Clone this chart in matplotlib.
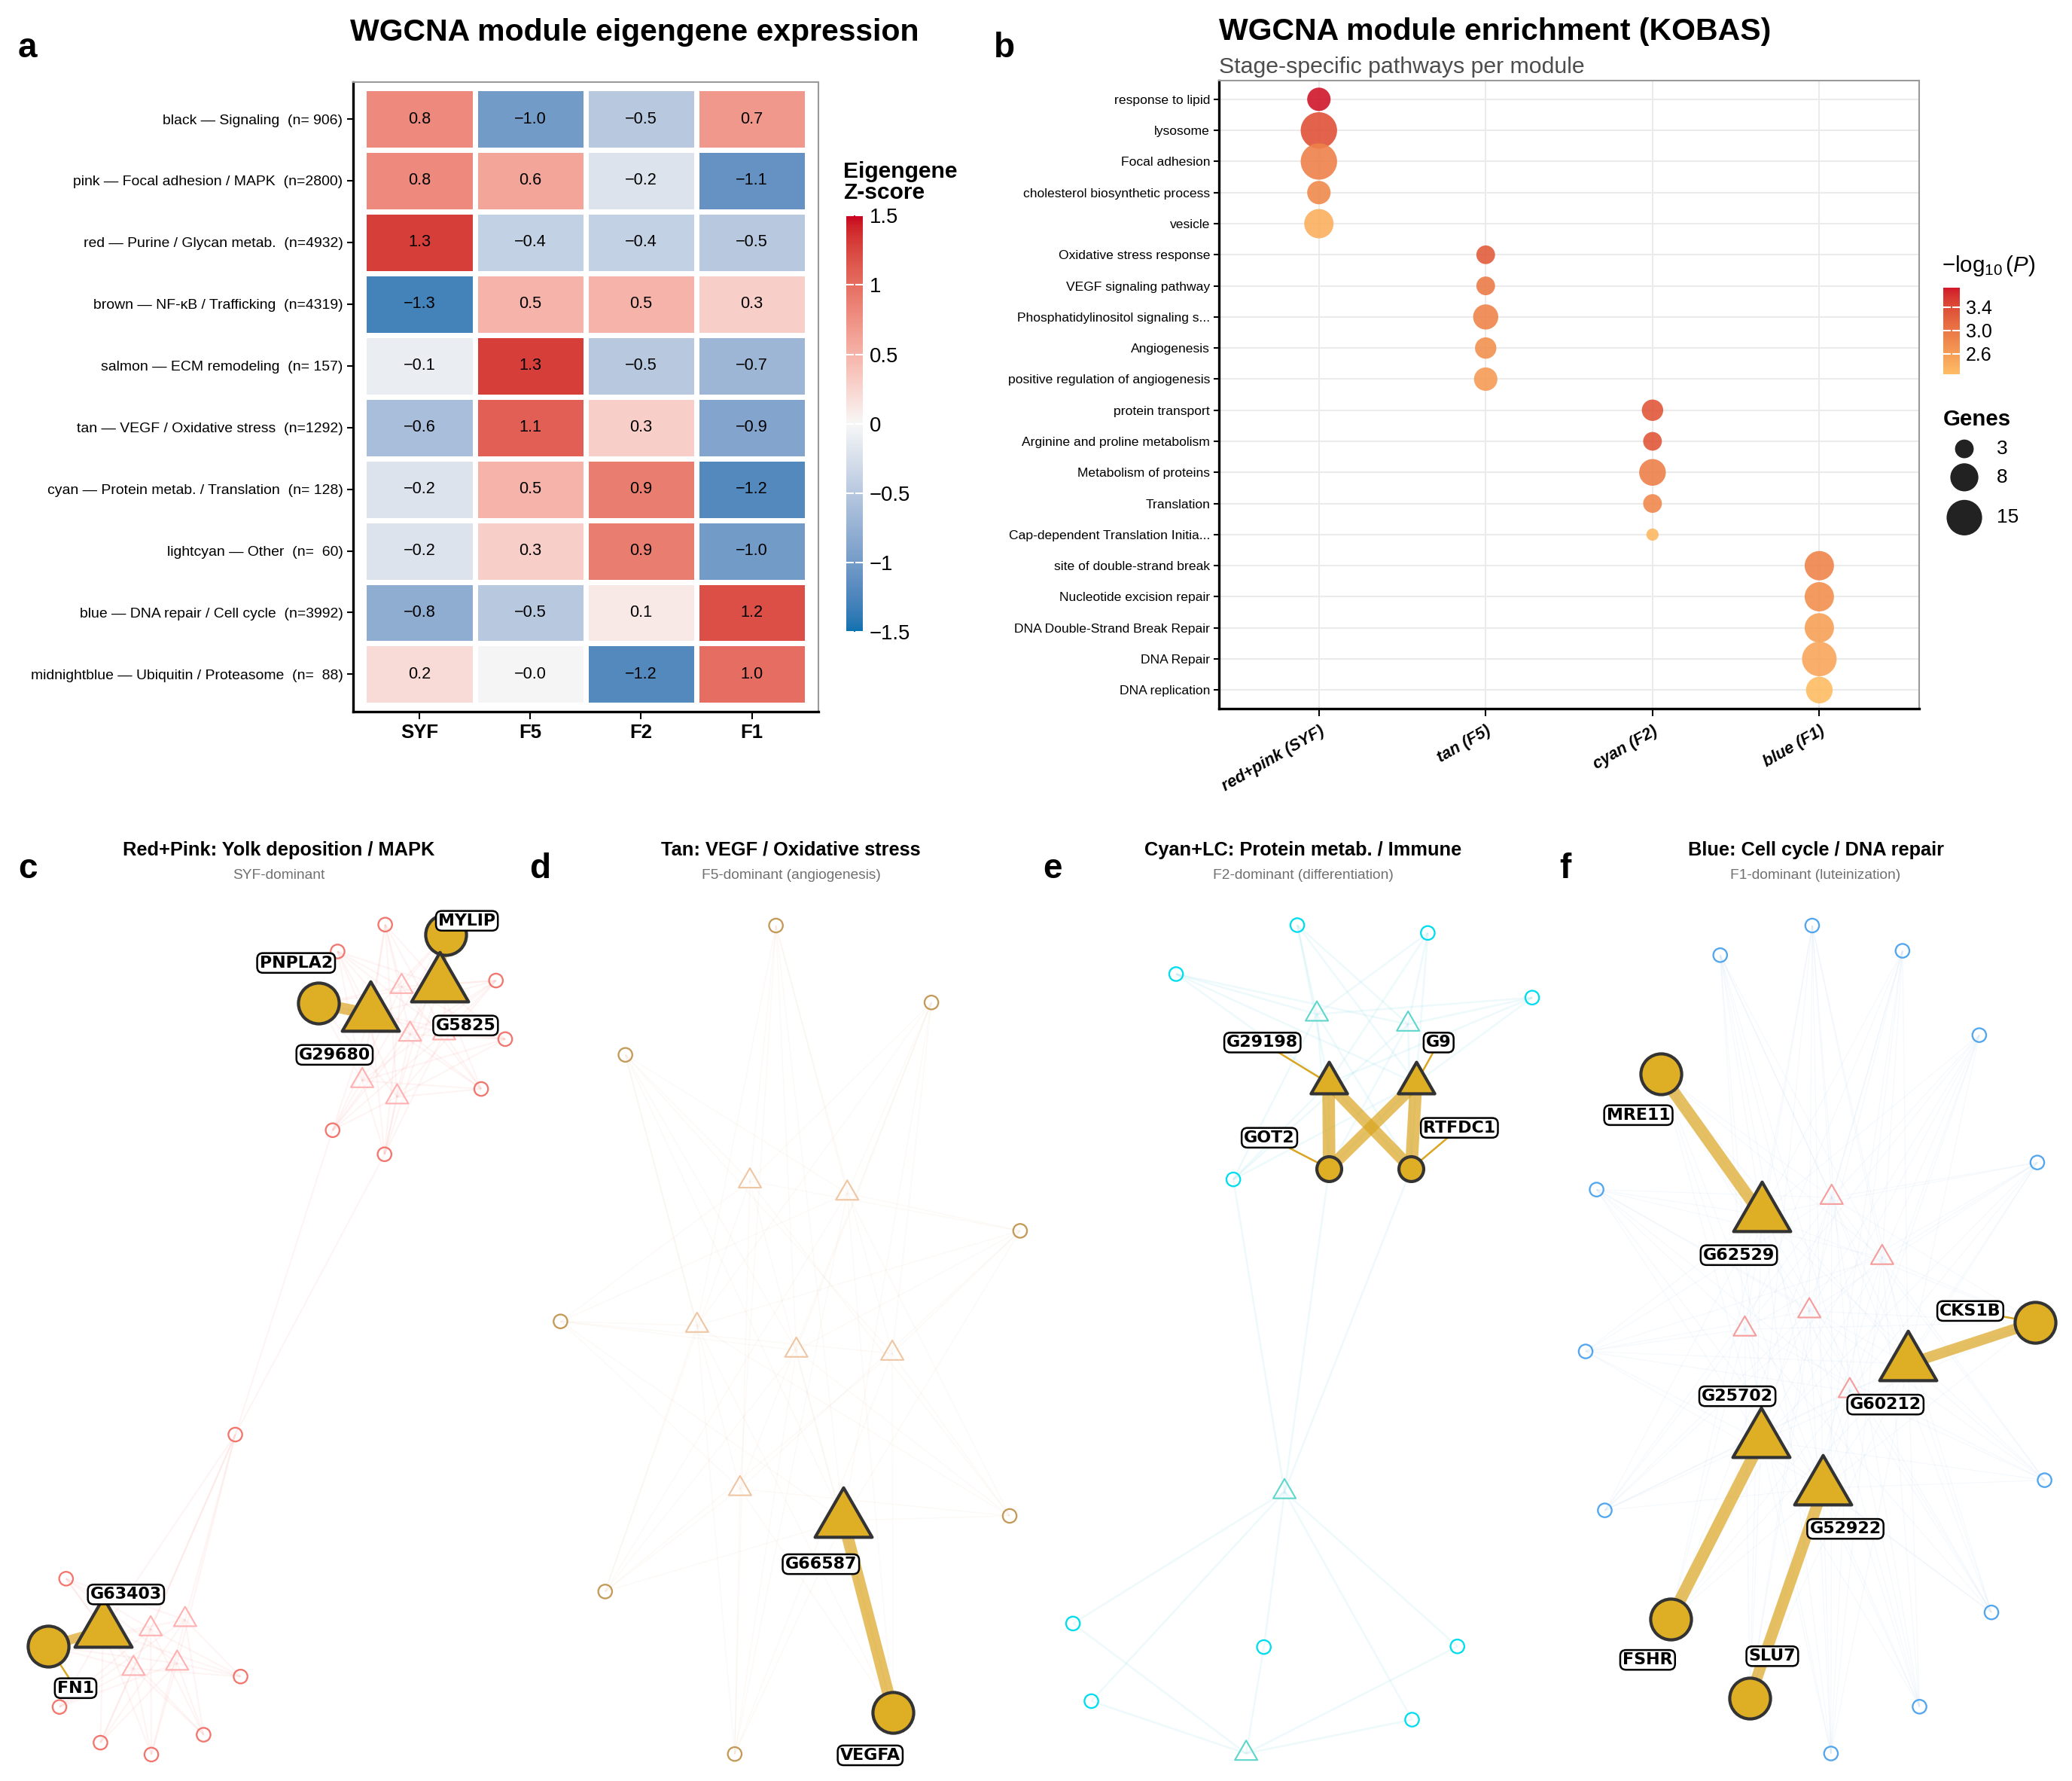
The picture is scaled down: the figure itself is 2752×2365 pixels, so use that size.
import numpy as np
import matplotlib
matplotlib.use("Agg")
import matplotlib.pyplot as plt
from matplotlib.path import Path
from matplotlib.colors import ListedColormap, Normalize
from matplotlib.collections import LineCollection
import matplotlib.cm as cm

plt.rcParams['font.family'] = ['Liberation Sans', 'DejaVu Sans']
plt.rcParams['mathtext.fontset'] = 'custom'
plt.rcParams['mathtext.rm'] = 'Liberation Sans'
plt.rcParams['mathtext.it'] = 'Liberation Sans:italic'

# ======================= Panel a data =======================
module_names = ['black', 'pink', 'red', 'brown', 'salmon', 'tan', 'cyan',
                'lightcyan', 'blue', 'midnightblue']
module_terms = ['Signaling', 'Focal adhesion / MAPK', 'Purine / Glycan metab.',
                'NF-\u03baB / Trafficking', 'ECM remodeling', 'VEGF / Oxidative stress',
                'Protein metab. / Translation', 'Other', 'DNA repair / Cell cycle',
                'Ubiquitin / Proteasome']
module_sizes = [906, 2800, 4932, 4319, 157, 1292, 128, 60, 3992, 88]
stages = ['SYF', 'F5', 'F2', 'F1']
eigengene_z = [
    [0.8, -1.0, -0.5, 0.7],
    [0.8, 0.6, -0.2, -1.1],
    [1.3, -0.4, -0.4, -0.5],
    [-1.3, 0.5, 0.5, 0.3],
    [-0.1, 1.3, -0.5, -0.7],
    [-0.6, 1.1, 0.3, -0.9],
    [-0.2, 0.5, 0.9, -1.2],
    [-0.2, 0.3, 0.9, -1.0],
    [-0.8, -0.5, 0.1, 1.2],
    [0.2, -0.02, -1.2, 1.0],
]
z_ticks = [-1.5, -1, -0.5, 0, 0.5, 1, 1.5]

# ======================= Panel b data =======================
kobas_terms = ['response to lipid', 'lysosome', 'Focal adhesion',
               'cholesterol biosynthetic process', 'vesicle',
               'Oxidative stress response', 'VEGF signaling pathway',
               'Phosphatidylinositol signaling s...', 'Angiogenesis',
               'positive regulation of angiogenesis',
               'protein transport', 'Arginine and proline metabolism',
               'Metabolism of proteins', 'Translation',
               'Cap-dependent Translation Initia...',
               'site of double-strand break', 'Nucleotide excision repair',
               'DNA Double-Strand Break Repair', 'DNA Repair', 'DNA replication']
kobas_groups = ['red+pink (SYF)', 'tan (F5)', 'cyan (F2)', 'blue (F1)']
kobas_group_of_term = [0, 0, 0, 0, 0, 1, 1, 1, 1, 1, 2, 2, 2, 2, 2, 3, 3, 3, 3, 3]
kobas_neglog10p = [3.73, 3.35, 2.88, 2.80, 2.40, 3.25, 2.95, 2.85, 2.72, 2.62,
                   3.30, 3.30, 2.90, 2.82, 2.30, 2.86, 2.74, 2.56, 2.48, 2.254]
kobas_genes = [5, 16, 16, 5, 9, 3, 3, 6, 4, 5, 4, 3, 7, 3, 2, 9, 9, 9, 14, 7]
p_ticks = [2.6, 3.0, 3.4]
gene_legend = [3, 8, 15]

# ======================= Network data (layout units) =======================
# ---- c: Red+Pink
c_title = 'Red+Pink: Yolk deposition / MAPK'
c_sub = 'SYF-dominant'
c_circles = {'r1': (291.4, 699.3), 'r2': (255.4, 719.6), 'r3': (375.2, 741.6),
             'r4': (382.2, 785.9), 'r5': (364.0, 823.6), 'r6': (251.6, 854.8),
             'r7': (290.9, 873.0), 'r8': (178.0, 1085.0), 'r9': (50.0, 1194.0),
             'r10': (182.0, 1268.0), 'r11': (45.0, 1291.0), 'r12': (76.0, 1318.0),
             'r13': (114.5, 1327.0), 'r14': (154.0, 1312.0)}
c_tris = {'p1': (303.8, 746.2), 'p2': (310.2, 782.3), 'p3': (336.0, 781.3),
          'p4': (274.0, 817.4), 'p5': (300.4, 829.7), 'p6': (114.0, 1232.0),
          'p7': (140.0, 1225.0), 'p8': (101.0, 1262.0), 'p9': (134.0, 1258.0)}
c_hub_circles = {'MYLIP': (337.4, 706.7), 'PNPLA2': (241.1, 758.9), 'FN1': (36.6, 1245.0)}
c_hub_tris = {'G5825': (332.5, 745.0), 'G29680': (280.5, 767.0), 'G63403': (78.0, 1233.0)}
c_groups = [(['r1', 'r2', 'r3', 'r4', 'r5', 'r6', 'r7', 'MYLIP', 'PNPLA2'],
             ['p1', 'p2', 'p3', 'p4', 'p5', 'G5825', 'G29680']),
            (['r8', 'r9', 'r10', 'r11', 'r12', 'r13', 'r14', 'FN1'],
             ['p6', 'p7', 'p8', 'p9', 'G63403'])]
c_extra = [('r6', 'r8'), ('r7', 'r8')]
c_gold = [('PNPLA2', 'G29680'), ('MYLIP', 'G5825'), ('FN1', 'G63403')]
c_gold_w = [3.6, 2.2, 3.0]
c_labels = {'MYLIP': (353.2, 696.4), 'PNPLA2': (224.0, 728.3), 'G5825': (352.2, 775.6),
            'G29680': (253.1, 797.8), 'G63403': (95.3, 1205.9), 'FN1': (57.2, 1276.8)}
c_seg = ['FN1']

# ---- d: Tan
d_title = 'Tan: VEGF / Oxidative stress'
d_sub = 'F5-dominant (angiogenesis)'
d_circles = {'n1': (587.0, 700.0), 'n2': (704.6, 758.2), 'n3': (473.1, 797.8),
             'n4': (771.7, 930.9), 'n5': (424.0, 999.4), 'n6': (763.8, 1146.5),
             'n7': (457.8, 1203.7), 'n8': (555.8, 1326.6)}
d_tris = {'q1': (567.3, 893.3), 'q2': (640.9, 902.5), 'q3': (527.3, 1002.5),
          'q4': (602.4, 1021.3), 'q5': (675.0, 1023.6), 'q6': (559.8, 1126.0)}
d_hub_circles = {'VEGFA': (675.6, 1295.0)}
d_hub_tris = {'G66587': (638.0, 1150.0)}
d_groups = [(['n1', 'n2', 'n3', 'n4', 'n5', 'n6', 'n7', 'n8', 'VEGFA'],
             ['q1', 'q2', 'q3', 'q4', 'q5', 'q6', 'G66587'])]
d_extra = []
d_gold = [('G66587', 'VEGFA')]
d_gold_w = [3.8]
d_labels = {'G66587': (621.0, 1183.0), 'VEGFA': (658.3, 1327.6)}
d_seg = []

# ---- e: Cyan+LC
e_title = 'Cyan+LC: Protein metab. / Immune'
e_sub = 'F2-dominant (differentiation)'
e_circles = {'k1': (981.4, 699.7), 'k2': (1080.1, 705.6), 'k3': (889.7, 736.7),
             'k4': (1159.1, 754.5), 'k5': (933.0, 892.0), 'k6': (811.7, 1227.9),
             'k7': (956.1, 1245.7), 'k8': (1102.5, 1245.2), 'k9': (825.6, 1286.6),
             'k10': (1068.2, 1300.6)}
e_tris = {'m1': (996.2, 767.1), 'm2': (1065.2, 774.7), 'm3': (971.7, 1128.3),
          'm4': (942.7, 1326.2)}
e_hub_circles = {'GOT2': (1005.5, 883.8), 'RTFDC1': (1067.6, 883.8)}
e_hub_tris = {'G29198': (1005.0, 819.2), 'G9': (1071.2, 819.2)}
e_groups = [(['k1', 'k2', 'k3', 'k4', 'k5', 'GOT2', 'RTFDC1'],
             ['m1', 'm2', 'G29198', 'G9']),
            (['k6', 'k7', 'k8', 'k9', 'k10'], ['m3', 'm4'])]
e_extra = [('k5', 'm3'), ('GOT2', 'm3'), ('RTFDC1', 'm3')]
e_gold = [('G29198', 'GOT2'), ('G9', 'RTFDC1'), ('G29198', 'RTFDC1'), ('G9', 'GOT2')]
e_gold_w = [4.0, 4.0, 3.8, 3.8]
e_labels = {'G29198': (955.0, 788.5), 'G9': (1088.3, 788.5), 'GOT2': (960.3, 860.5),
            'RTFDC1': (1104.0, 853.0)}
e_seg = ['G29198', 'G9', 'GOT2', 'RTFDC1']

# ---- f: Blue
f_title = 'Blue: Cell cycle / DNA repair'
f_sub = 'F1-dominant (luteinization)'
f_circles = {'b1': (1370.9, 700.0), 'b2': (1301.3, 722.4), 'b3': (1439.2, 719.1),
             'b4': (1497.3, 782.9), 'b5': (1207.8, 899.7), 'b6': (1541.2, 879.2),
             'b7': (1199.5, 1022.1), 'b8': (1214.0, 1142.3), 'b9': (1546.7, 1119.5),
             'b10': (1506.5, 1219.5), 'b11': (1452.1, 1290.8), 'b12': (1385.1, 1326.2)}
f_tris = {'u1': (1385.6, 905.7), 'u2': (1423.8, 951.2), 'u3': (1368.7, 991.5),
          'u4': (1319.9, 1005.3), 'u5': (1399.3, 1051.9)}
f_hub_circles = {'MRE11': (1256.4, 812.2), 'CKS1B': (1539.8, 1000.0),
                 'FSHR': (1263.6, 1224.7), 'SLU7': (1323.7, 1284.3)}
f_hub_tris = {'G62529': (1332.5, 918.8), 'G60212': (1443.4, 1031.6),
              'G25702': (1332.2, 1089.6), 'G52922': (1379.1, 1125.5)}
f_groups = [(['b1', 'b2', 'b3', 'b4', 'b5', 'b6', 'b7', 'b8', 'b9', 'b10', 'b11', 'b12',
              'MRE11', 'CKS1B', 'FSHR', 'SLU7'],
             ['u1', 'u2', 'u3', 'u4', 'u5', 'G62529', 'G60212', 'G25702', 'G52922'])]
f_extra = []
f_gold = [('MRE11', 'G62529'), ('CKS1B', 'G60212'), ('G25702', 'FSHR'), ('G52922', 'SLU7')]
f_gold_w = [3.8, 3.4, 3.8, 3.6]
f_labels = {'MRE11': (1239.4, 843.4), 'G62529': (1315.4, 949.3), 'CKS1B': (1490.5, 991.5),
            'G60212': (1426.3, 1062.3), 'G25702': (1314.3, 1056.0), 'G52922': (1396.0, 1156.3),
            'FSHR': (1246.4, 1255.4), 'SLU7': (1340.7, 1252.6)}
f_seg = ['CKS1B']

# ======================= helpers =======================
_M = np.array([[0.4124564, 0.3575761, 0.1804375],
               [0.2126729, 0.7151522, 0.0721750],
               [0.0193339, 0.1191920, 0.9503041]])
_Minv = np.linalg.inv(_M)
_WHITE = np.array([0.95047, 1.0, 1.08883])


def hex2rgb(h):
    h = h.lstrip('#')
    return np.array([int(h[i:i + 2], 16) for i in (0, 2, 4)]) / 255.0


def rgb2lab(rgb):
    c = np.where(rgb <= 0.04045, rgb / 12.92, ((rgb + 0.055) / 1.055) ** 2.4)
    t = (_M @ c) / _WHITE
    f = np.where(t > (6 / 29) ** 3, np.cbrt(t), t / (3 * (6 / 29) ** 2) + 4 / 29)
    return np.array([116 * f[1] - 16, 500 * (f[0] - f[1]), 200 * (f[1] - f[2])])


def lab2rgb(lab):
    L, a, b = lab
    fy = (L + 16) / 116
    f = np.array([fy + a / 500, fy, fy - b / 200])
    t = np.where(f > 6 / 29, f ** 3, 3 * (6 / 29) ** 2 * (f - 4 / 29))
    c = np.clip(_Minv @ (t * _WHITE), 0, 1)
    rgb = np.where(c <= 0.0031308, 12.92 * c, 1.055 * c ** (1 / 2.4) - 0.055)
    return np.clip(rgb, 0, 1)


def lab_ramp(hexes, n=256):
    labs = np.array([rgb2lab(hex2rgb(h)) for h in hexes])
    pos = np.linspace(0, 1, len(hexes))
    out = []
    for ti in np.linspace(0, 1, n):
        lab = np.array([np.interp(ti, pos, labs[:, k]) for k in range(3)])
        out.append(lab2rgb(lab))
    return ListedColormap(out)


def umin(s):
    return s.replace('-', '\u2212')


TRI = Path([(0, 1), (-0.866, -0.5), (0.866, -0.5), (0, 1)],
           [Path.MOVETO, Path.LINETO, Path.LINETO, Path.CLOSEPOLY])

# ======================= figure =======================
FW, FH = 1568.0, 1347.0
fig = plt.figure(figsize=(2753 / 300, 2365 / 300), dpi=300)
fig.patch.set_facecolor('white')


def rect(x0, y0, x1, y1):
    return [x0 / FW, 1 - y1 / FH, (x1 - x0) / FW, (y1 - y0) / FH]


def style_frame(ax):
    for s in ['left', 'bottom']:
        ax.spines[s].set_color('black')
        ax.spines[s].set_linewidth(0.8)
    for s in ['top', 'right']:
        ax.spines[s].set_color('#9a9a9a')
        ax.spines[s].set_linewidth(0.5)


# ----------------------- Panel a -----------------------
cmap_a = lab_ramp(['#0571B0', '#F7F7F7', '#CA0020'])
norm_a = Normalize(-1.5, 1.5)
Z = np.array(eigengene_z)
axa = fig.add_axes(rect(267, 62, 619, 538))
axa.pcolormesh(np.arange(len(stages) + 1) - 0.5, np.arange(len(module_names) + 1) - 0.5, Z,
               cmap=cmap_a, norm=norm_a, edgecolors='white', linewidth=1.3)
for i in range(Z.shape[0]):
    for j in range(Z.shape[1]):
        axa.text(j, i, umin(f"{Z[i, j]:.1f}"), ha='center', va='center', fontsize=5.2,
                 color='black')
axa.set_xlim(-0.6, len(stages) - 0.4)
axa.set_ylim(len(module_names) - 0.4, -0.6)
axa.set_xticks(range(len(stages)))
axa.set_xticklabels(stages, fontsize=6.2, fontweight='bold')
axa.set_yticks(range(len(module_names)))
axa.set_yticklabels([f"{m} \u2014 {t}  (n={n:4d})" for m, t, n in
                     zip(module_names, module_terms, module_sizes)], fontsize=4.66)
axa.tick_params(axis='x', length=2.5, width=0.5, pad=1.5)
axa.tick_params(axis='y', length=2.0, width=0.5, pad=1.2)
style_frame(axa)

caxa = fig.add_axes(rect(640, 163, 653, 478))
cba = fig.colorbar(cm.ScalarMappable(norm=norm_a, cmap=cmap_a), cax=caxa)
cba.outline.set_visible(False)
cba.set_ticks(z_ticks)
cba.set_ticklabels([umin(f"{t:g}") for t in z_ticks])
caxa.tick_params(left=True, right=True, labelleft=False, labelright=True, direction='in',
                 color='white', length=2.4, width=0.5, labelsize=6.6, pad=2)
fig.text(638 / FW, 1 - 122 / FH, 'Eigengene\nZ-score', fontsize=7.2, fontweight='bold',
         ha='left', va='top', linespacing=1.0)

fig.text(265 / FW, 1 - 24.5 / FH, 'WGCNA module eigengene expression', fontsize=9.85,
         fontweight='bold', ha='left', va='center')
fig.text(21 / FW, 1 - 36.5 / FH, 'a', fontsize=11, fontweight='bold', ha='center', va='center')

# ----------------------- Panel b -----------------------
cmap_b = lab_ramp(['#FEBC64', '#D1162B'])
norm_b = Normalize(min(kobas_neglog10p), max(kobas_neglog10p))
gmin, gmax = min(kobas_genes), max(kobas_genes)
DMIN, DMAX = 3.9, 11.6  # point diameters (pt)


def gene_size(g):
    g = np.asarray(g, dtype=float)
    return (DMIN + (DMAX - DMIN) * np.sqrt((g - gmin) / (gmax - gmin))) ** 2


axb = fig.add_axes(rect(922, 61, 1452, 536))
axb.scatter(kobas_group_of_term, range(len(kobas_terms)), s=gene_size(kobas_genes),
            c=cmap_b(norm_b(kobas_neglog10p)), alpha=0.9, linewidths=0, zorder=3)
axb.set_xlim(-0.6, len(kobas_groups) - 0.4)
axb.set_ylim(len(kobas_terms) - 0.4, -0.6)
axb.set_xticks(range(len(kobas_groups)))
axb.set_xticklabels(kobas_groups, fontsize=5.2, fontweight='bold', style='italic',
                    rotation=30, ha='right', va='top', rotation_mode='anchor')
axb.set_yticks(range(len(kobas_terms)))
axb.set_yticklabels(kobas_terms, fontsize=4.2)
axb.tick_params(axis='x', length=2.5, width=0.5, pad=2)
axb.tick_params(axis='y', length=1.8, width=0.5, pad=1.0)
axb.grid(True, color='#EBEBEB', linewidth=0.5)
axb.set_axisbelow(True)
style_frame(axb)

caxb = fig.add_axes(rect(1470, 217.5, 1482.5, 283))
cbb = fig.colorbar(cm.ScalarMappable(norm=norm_b, cmap=cmap_b), cax=caxb)
cbb.outline.set_visible(False)
cbb.set_ticks(p_ticks)
cbb.set_ticklabels([f"{t:.1f}" for t in p_ticks])
caxb.tick_params(left=True, right=True, labelleft=False, labelright=True, direction='in',
                 color='white', length=2.4, width=0.5, labelsize=6.0, pad=2)
fig.text(1469 / FW, 1 - 201 / FH, r'$-\log_{10}(P)$', fontsize=7.1, ha='left', va='center')
fig.text(1470 / FW, 1 - 317 / FH, 'Genes', fontsize=7.1, fontweight='bold', ha='left',
         va='center')

fig.text(922 / FW, 1 - 24 / FH, 'WGCNA module enrichment (KOBAS)', fontsize=9.85,
         fontweight='bold', ha='left', va='center')
fig.text(922 / FW, 1 - 50.5 / FH, 'Stage-specific pathways per module', fontsize=7.25,
         color='#4D4D4D', ha='left', va='center')
fig.text(760 / FW, 1 - 36.5 / FH, 'b', fontsize=11, fontweight='bold', ha='center', va='center')

# overlay for legend keys
ov = fig.add_axes([0, 0, 1, 1])
ov.set_xlim(0, FW)
ov.set_ylim(FH, 0)
ov.axis('off')
leg_y = [339.5, 361.0, 391.5]
ov.scatter([1486] * len(gene_legend), leg_y, s=gene_size(gene_legend), color='#222222',
           linewidths=0)
for g, yy in zip(gene_legend, leg_y):
    ov.text(1510.5, yy, str(g), fontsize=6.3, ha='left', va='center')

# ----------------------- Networks -----------------------
PANEL_W = 387.6
PANEL_X0 = 17.0
HUB_FILL = '#DEAE24'
HUB_EDGE = '#333333'
GOLD_EDGE = '#DAA520'

nets = [
    dict(title=c_title, sub=c_sub, letter='c', circles=c_circles, tris=c_tris,
         hc=c_hub_circles, ht=c_hub_tris, groups=c_groups, extra=c_extra, gold=c_gold,
         gw=c_gold_w, labels=c_labels, seg=c_seg,
         ccol='#F2766E', tcol='#FFB0B0', ecol='#F47A72', ealpha=0.08, elw=0.5,
         hc_size=13.0, ht_size=21.0),
    dict(title=d_title, sub=d_sub, letter='d', circles=d_circles, tris=d_tris,
         hc=d_hub_circles, ht=d_hub_tris, groups=d_groups, extra=d_extra, gold=d_gold,
         gw=d_gold_w, labels=d_labels, seg=d_seg,
         ccol='#C49A58', tcol='#EFC6A4', ecol='#E2B98E', ealpha=0.08, elw=0.35,
         hc_size=13.0, ht_size=21.0),
    dict(title=e_title, sub=e_sub, letter='e', circles=e_circles, tris=e_tris,
         hc=e_hub_circles, ht=e_hub_tris, groups=e_groups, extra=e_extra, gold=e_gold,
         gw=e_gold_w, labels=e_labels, seg=e_seg,
         ccol='#00DDEE', tcol='#5FD6CB', ecol='#8FDDEB', ealpha=0.16, elw=0.6,
         hc_size=7.9, ht_size=13.4),
    dict(title=f_title, sub=f_sub, letter='f', circles=f_circles, tris=f_tris,
         hc=f_hub_circles, ht=f_hub_tris, groups=f_groups, extra=f_extra, gold=f_gold,
         gw=f_gold_w, labels=f_labels, seg=f_seg,
         ccol='#52A6EE', tcol='#F59C9C', ecol='#BCD6F0', ealpha=0.14, elw=0.3,
         hc_size=13.0, ht_size=21.0),
]

for k, net in enumerate(nets):
    x0 = PANEL_X0 + k * PANEL_W
    ax = fig.add_axes(rect(x0, 675, x0 + PANEL_W, FH))
    ax.set_xlim(x0, x0 + PANEL_W)
    ax.set_ylim(FH, 675)
    ax.axis('off')
    pos = {}
    pos.update(net['circles']); pos.update(net['tris'])
    pos.update(net['hc']); pos.update(net['ht'])

    edges = []
    for cs, ts in net['groups']:
        for a in cs:
            for b in ts:
                edges.append((a, b))
    edges += net['extra']
    segs = [[pos[a], pos[b]] for a, b in edges]
    ax.add_collection(LineCollection(segs, colors=net['ecol'], alpha=net['ealpha'],
                                     linewidths=net['elw'], zorder=1))

    cx = [p[0] for p in net['circles'].values()]
    cy = [p[1] for p in net['circles'].values()]
    ax.scatter(cx, cy, s=4.4 ** 2, facecolors='none', edgecolors=net['ccol'],
               linewidths=0.55, zorder=2, clip_on=False)
    tx = [p[0] for p in net['tris'].values()]
    ty = [p[1] for p in net['tris'].values()]
    ax.scatter(tx, ty, s=8.3 ** 2, marker=TRI, facecolors='none', edgecolors=net['tcol'],
               linewidths=0.5, zorder=2, clip_on=False)

    gsegs = [[pos[a], pos[b]] for a, b in net['gold']]
    ax.add_collection(LineCollection(gsegs, colors=GOLD_EDGE, alpha=0.7,
                                     linewidths=net['gw'], zorder=3, capstyle='butt'))

    for name in net['seg']:
        lx, ly = net['labels'][name]
        nx, ny = pos[name]
        ax.plot([lx, nx], [ly, ny], color=GOLD_EDGE, lw=0.6, zorder=4)

    hx = [p[0] for p in net['hc'].values()]
    hy = [p[1] for p in net['hc'].values()]
    ax.scatter(hx, hy, s=net['hc_size'] ** 2, facecolors=HUB_FILL, edgecolors=HUB_EDGE,
               linewidths=1.0, zorder=5, clip_on=False)
    htx = [p[0] for p in net['ht'].values()]
    hty = [p[1] for p in net['ht'].values()]
    ax.scatter(htx, hty, s=net['ht_size'] ** 2, marker=TRI, facecolors=HUB_FILL,
               edgecolors=HUB_EDGE, linewidths=1.0, zorder=6, clip_on=False)

    for name, (lx, ly) in net['labels'].items():
        ax.text(lx, ly, name, ha='center', va='center', fontsize=5.3,
                fontfamily='DejaVu Sans', fontweight='bold', zorder=8,
                bbox=dict(boxstyle='round,pad=0.14,rounding_size=0.35', fc='white',
                          ec='black', lw=0.6))

    fig.text((x0 + 193.7) / FW, 1 - 643 / FH, net['title'], fontsize=6.1,
             fontweight='bold', ha='center', va='center')
    fig.text((x0 + 193.7) / FW, 1 - 662.3 / FH, net['sub'], fontsize=4.6, color='#707070',
             ha='center', va='center')
    fig.text((x0 + 4.0) / FW, 1 - 657.5 / FH, net['letter'], fontsize=11,
             fontweight='bold', ha='center', va='center')

fig.savefig('out.png', dpi=300, facecolor='white')
